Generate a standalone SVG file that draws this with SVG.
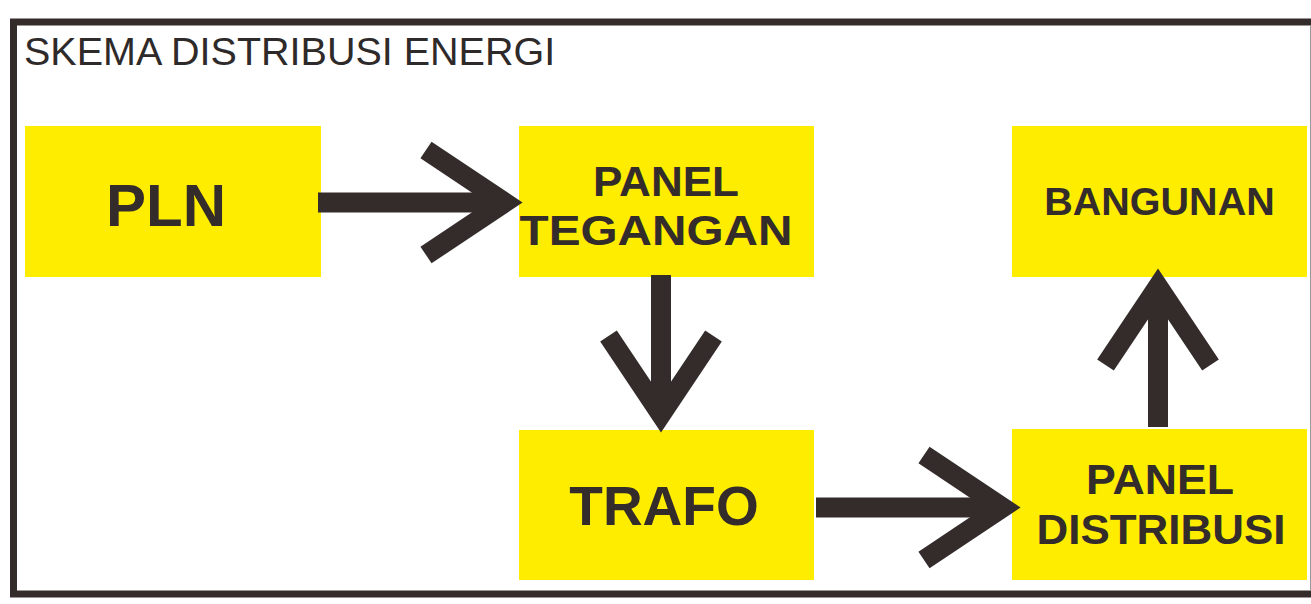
<svg xmlns="http://www.w3.org/2000/svg" xmlns:xlink="http://www.w3.org/1999/xlink" width="1311" height="604" viewBox="0 0 1311 604">
  <style>
    .box { fill: #ffed00; }
    .lbl { font-family: "Liberation Sans", Arial, sans-serif; font-weight: bold; fill: #332c2b; text-anchor: middle; }
    .title { font-family: "Liberation Sans", Arial, sans-serif; fill: #2f2a2a; }
    .conn { stroke: #332c2b; stroke-width: 20; fill: none; stroke-linejoin: miter; stroke-linecap: butt; }
  </style>
  <defs>
    <polyline id="head" points="-97,-52.5 -18.4,0 -97,52.5"/>
  </defs>
  <rect x="0" y="0" width="1311" height="604" fill="#ffffff"/>
  <rect x="13.5" y="22" width="1310" height="572" fill="none" stroke="#332c2b" stroke-width="7"/>
  <line x1="1310.5" y1="26" x2="1310.5" y2="590" stroke="#9a9a9a" stroke-width="1"/>
  <text class="title" x="24" y="65" font-size="39.5">SKEMA DISTRIBUSI ENERGI</text>

  <g id="pln">
    <rect class="box" x="25" y="126" width="296" height="151"/>
    <text class="lbl" x="166" y="226" font-size="60">PLN</text>
  </g>
  <g id="panel-tegangan">
    <rect class="box" x="519" y="126" width="295" height="151"/>
    <text class="lbl" x="666" y="195.5" font-size="43" textLength="146" lengthAdjust="spacingAndGlyphs">PANEL</text>
    <text class="lbl" x="656" y="245" font-size="43" textLength="273" lengthAdjust="spacingAndGlyphs">TEGANGAN</text>
  </g>
  <g id="bangunan">
    <rect class="box" x="1012" y="126" width="295" height="151"/>
    <text class="lbl" x="1159.5" y="215" font-size="39.5">BANGUNAN</text>
  </g>
  <g id="trafo">
    <rect class="box" x="519" y="430" width="295" height="150"/>
    <text class="lbl" x="664" y="524.5" font-size="55">TRAFO</text>
  </g>
  <g id="panel-distribusi">
    <rect class="box" x="1012" y="429" width="295" height="151"/>
    <text class="lbl" x="1160" y="493.5" font-size="42" textLength="148" lengthAdjust="spacingAndGlyphs">PANEL</text>
    <text class="lbl" x="1161" y="543.5" font-size="42" textLength="249" lengthAdjust="spacingAndGlyphs">DISTRIBUSI</text>
  </g>

  <g id="connectors" class="conn">
    <line x1="318" y1="202.5" x2="506" y2="202.5"/>
    <use xlink:href="#head" href="#head" transform="translate(523,202.5)"/>
    <line x1="661" y1="275" x2="661" y2="416"/>
    <use xlink:href="#head" href="#head" transform="translate(661,433) rotate(90)"/>
    <line x1="1158" y1="427" x2="1158" y2="285"/>
    <use xlink:href="#head" href="#head" transform="translate(1158,268) rotate(-90)"/>
    <line x1="816" y1="507.5" x2="1004" y2="507.5"/>
    <use xlink:href="#head" href="#head" transform="translate(1021,507.5)"/>
  </g>
</svg>
